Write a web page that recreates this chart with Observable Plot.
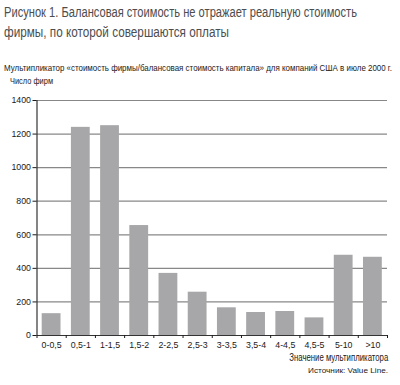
<!DOCTYPE html>
<html><head><meta charset="utf-8">
<script src="https://cdn.jsdelivr.net/npm/d3@7"></script>
<script src="https://cdn.jsdelivr.net/npm/@observablehq/plot@0.6"></script>
<style>
body{margin:0;background:#fff;}
#wrap{position:relative;width:400px;height:385px;overflow:hidden;font-family:"Liberation Sans",Arial,sans-serif;}
.t{position:absolute;white-space:nowrap;display:block;}
#chart{position:absolute;left:0;top:88px;}
</style></head><body>
<div id="wrap">
<div class="t fit" data-w="353" style="left:4px;top:3px;font-size:15.5px;line-height:18px;color:#4d4d4d;transform-origin:0 0">Рисунок 1. Балансовая стоимость не отражает реальную стоимость</div>
<div class="t fit" data-w="225" style="left:4px;top:23px;font-size:15.5px;line-height:18px;color:#4d4d4d;transform-origin:0 0">фирмы, по которой совершаются оплаты</div>
<div class="t fit" data-w="388" style="left:4px;top:62px;font-size:9.6px;line-height:11px;color:#1a1a1a;transform-origin:0 0">Мультипликатор «стоимость фирмы/балансовая стоимость капитала» для компаний США в июле 2000 г.</div>
<div class="t fit" data-w="43" style="left:10px;top:74.5px;font-size:9.5px;line-height:11px;color:#1a1a1a;transform-origin:0 0">Число фирм</div>
<div id="chart"></div>
<div class="t fit" data-w="99" style="right:12px;top:352px;font-size:10px;line-height:12px;color:#1a1a1a;transform-origin:100% 0">Значение мультипликатора</div>
<div class="t fit" data-w="80" style="right:12px;top:366px;font-size:8px;line-height:10px;color:#1a1a1a;transform-origin:100% 0">Источник: Value Line.</div>
</div>
<script>
const categories = ["0-0,5","0,5-1","1-1,5","1,5-2","2-2,5","2,5-3","3-3,5","3,5-4","4-4,5","4,5-5","5-10",">10"];
const values = [130,1240,1250,655,370,258,165,137,143,105,478,466];
const yTicks = [0,200,400,600,800,1000,1200,1400];

const data = categories.map((c,i)=>({i, category:c, value: values[i]}));

const chart = Plot.plot({
  width: 400,
  height: 267,
  marginLeft: 36.5,
  marginRight: 13,
  marginTop: 12,
  marginBottom: 20,
  style: {fontFamily: '"Liberation Sans",Arial,sans-serif', fontSize: "8.8px", color: "#1a1a1a", background: "#fff"},
  x: {type: "linear", domain: [0, categories.length]},
  y: {domain: [0, 1400]},
  marks: [
    Plot.gridY(yTicks.slice(1), {stroke: "#888", strokeOpacity: 1, strokeWidth: 1.2}),
    Plot.rectY(data, {x1: "i", x2: d => d.i + 1, y: "value", fill: "#a7a7a9", insetLeft: 5.2, insetRight: 5.2}),
    Plot.ruleY([0], {stroke: "#333", strokeWidth: 1.2}),
    Plot.ruleX([0], {stroke: "#333", strokeWidth: 1.2}),
    Plot.axisY({ticks: yTicks, tickSize: 4, tickPadding: 2, label: null, tickFormat: d => String(d)}),
    Plot.axisX({ticks: d3.range(0, categories.length + 1), tickSize: 3, tickFormat: () => "", label: null}),
    Plot.axisX({ticks: categories.map((c,i) => i + 0.5), tickSize: 0, tickPadding: 6, tickFormat: v => categories[Math.floor(v)], label: null})
  ]
});
document.getElementById("chart").appendChild(chart);

document.querySelectorAll(".fit").forEach(el => {
  const w = el.getBoundingClientRect().width;
  const target = +el.dataset.w;
  el.style.transform = `scaleX(${target / w})`;
});
</script>
</body></html>
